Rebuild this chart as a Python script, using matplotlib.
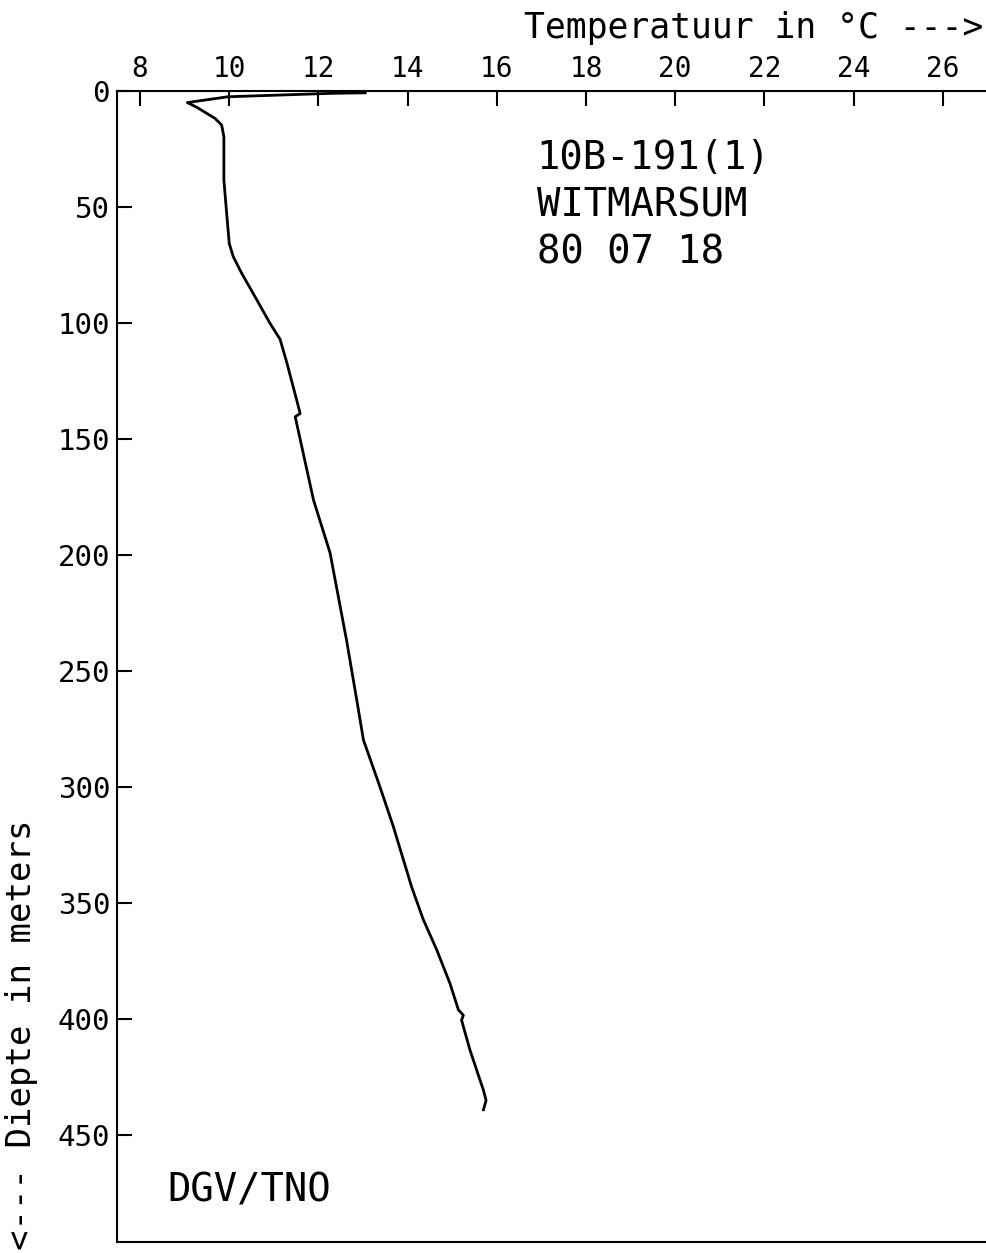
import matplotlib
matplotlib.use("Agg")
import matplotlib.pyplot as plt

temp = [13.05, 12.33, 9.97, 9.06, 9.27, 9.68, 9.83, 9.88, 9.88, 9.93, 10.0, 10.09,
        10.28, 10.58, 10.91, 11.14, 11.29, 11.51, 11.59, 11.48, 11.89, 12.26, 12.63,
        12.86, 13.01, 13.38, 13.68, 14.09, 14.35, 14.65, 14.95, 15.14, 15.25, 15.21,
        15.40, 15.70, 15.76, 15.70]
diepte = [0.8, 1.0, 2.5, 5.0, 7.0, 11.8, 14.7, 19.7, 38.4, 50, 65.7, 71.4,
          78.6, 88.7, 100, 107, 117, 133, 139, 140.4, 176.3, 199, 236.6,
          262.5, 279.7, 299.9, 317, 343, 357, 370, 384.6, 396, 398.3, 400.4,
          413.4, 430.6, 435, 439]

xticks = [8, 10, 12, 14, 16, 18, 20, 22, 24, 26]
yticks = [0, 50, 100, 150, 200, 250, 300, 350, 400, 450]
info = "10B-191(1)\nWITMARSUM\n80 07 18"

plt.rcParams['font.family'] = ['DejaVu Sans Mono']

fig = plt.figure(figsize=(9.86, 12.53), dpi=100)
ax = fig.add_axes([0.1187, 0.0088, 0.8813, 0.9186])

ax.plot(temp, diepte, color='black', lw=2.0)

ax.set_xlim(7.484, 26.97)
ax.set_ylim(496, 0)
ax.xaxis.tick_top()
ax.set_xticks(xticks)
ax.set_yticks(yticks)
ax.tick_params(axis='both', direction='in', length=11, width=1.5, color='black')
ax.tick_params(axis='x', labelsize=20, pad=6)
ax.tick_params(axis='y', labelsize=21, pad=5)
ax.spines['right'].set_visible(False)
for s in ['top', 'left', 'bottom']:
    ax.spines[s].set_linewidth(1.5)

fig.text(983 / 986, 1 - 38 / 1253, "Temperatuur in °C --->", fontsize=25,
         ha='right', va='baseline')
fig.text(0.022, 0.002, "<--- Diepte in meters", fontsize=24.5, rotation=90,
         ha='center', va='bottom')

ax.text(0.483, 0.958, info, transform=ax.transAxes, fontsize=28,
        ha='left', va='top', linespacing=1.3)
ax.text(0.058, 0.035, "DGV/TNO", transform=ax.transAxes, fontsize=28,
        ha='left', va='baseline')

fig.savefig("out.png", dpi=100)
